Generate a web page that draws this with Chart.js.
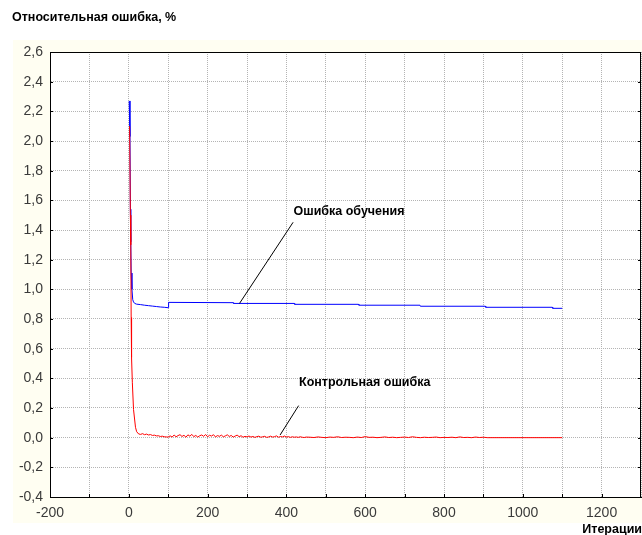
<!DOCTYPE html>
<html>
<head>
<meta charset="utf-8">
<script src="https://cdn.jsdelivr.net/npm/chart.js@4.4.1/dist/chart.umd.min.js"></script>
<style>
  html, body { margin: 0; padding: 0; background: #fff; }
  canvas { display: block; }
</style>
</head>
<body>
<canvas id="grafica" width="642" height="535"></canvas>
<script>
// Ошибка обучения (синяя): итерации и значения
const blueIter = [1, 3, 4, 5, 6, 8, 10, 12, 15, 20, 30, 40, 50, 60, 70, 80, 90, 100, 101, 265, 266, 420, 421, 583, 584, 739, 740, 905, 906, 1075, 1076, 1100];
const blueVals = [2.27, 2.03, 1.54, 1.32, 1.11, 1.0, 0.93, 0.915, 0.905, 0.9, 0.897, 0.893, 0.89, 0.887, 0.884, 0.881, 0.879, 0.876, 0.912, 0.91, 0.905, 0.905, 0.899, 0.899, 0.893, 0.893, 0.886, 0.886, 0.879, 0.879, 0.872, 0.872];

// Контрольная ошибка (красная): начало
const redHeadIter = [2, 4, 5, 6, 7, 9, 12, 17, 20];
const redHeadVals = [2.10, 1.5, 1.3, 0.81, 0.54, 0.37, 0.19, 0.07, 0.04];

// шум, шаг 5 итераций, с 25 по 450
const redMidStart = 25, redMidStep = 5;
const redMidVals = [
  0.025, 0.022, 0.027, 0.02, 0.024, 0.018, 0.021, 0.015, 0.017, 0.012, 0.013, 0.008, 0.01, 0.006, 0.005, 0.004,
  0.012, 0.004, 0.018, 0.006, 0.014, 0.02, 0.008, 0.016, 0.003, 0.019, 0.01, 0.022, 0.007, 0.015, 0.004, 0.013,
  0.018, 0.009, 0.021, 0.006, 0.016, 0.011, 0.02, 0.005, 0.014, 0.009, 0.017, 0.006, 0.012, 0.019, 0.008, 0.015,
  0.004, 0.011, 0.017, 0.007, 0.013, 0.003, 0.009, 0.005, 0.011, 0.004, 0.008, 0.002, 0.007, 0.01, 0.003, 0.006,
  0.009, 0.002, 0.005, 0.01, 0.004, 0.007, 0.012, 0.003, 0.008, 0.005, 0.011, 0.004, 0.007, 0.002, 0.006, 0.003,
  0.005, 0.002, 0.006, 0.003, 0.001, 0.004
];

// шум, шаг 10 итераций, с 460 по 910
const redLateStart = 460, redLateStep = 10;
const redLateVals = [
  0.003, 0.001, 0.005, 0.002, 0.0, 0.004, 0.002, 0.006, 0.001, 0.003,
  0.002, 0.0, 0.004, 0.001, 0.007, 0.002, 0.003, 0.0, 0.002, 0.005,
  0.001, 0.003, 0.0, 0.002, 0.004, 0.001, 0.006, 0.002, 0.0, 0.003,
  0.001, 0.002, 0.004, 0.0, 0.002, 0.001, 0.003, 0.0, 0.005, 0.001,
  0.002, 0.0, 0.004, 0.001, 0.003, 0.0
];
const redEndIter = [1100];
const redEndVals = [0.0];

// Etiquetas
const tituloY = 'Относительная ошибка, %';
const tituloX = 'Итерации';
const etiquetaAzul = 'Ошибка обучения';
const etiquetaRoja = 'Контрольная ошибка';

function puntos(xs, ys) {
    return xs.map((x, i) => ({ x: x, y: ys[i] }));
}

let datosAzul = puntos(blueIter, blueVals);
let datosRojo = puntos(redHeadIter, redHeadVals)
    .concat(redMidVals.map((v, i) => ({ x: redMidStart + i * redMidStep, y: v })))
    .concat(redLateVals.map((v, i) => ({ x: redLateStart + i * redLateStep, y: v })))
    .concat(puntos(redEndIter, redEndVals));

const familiaTicks = '"Liberation Sans", Arial, sans-serif';
const fuenteBold = 'bold 12.5px "Liberation Sans", Arial, sans-serif';

// fondo, marco, marcas internas, anotaciones
const dibujoExtra = {
    id: 'dibujoExtra',
    beforeDraw(chart) {
        const ctx = chart.ctx;
        ctx.save();
        ctx.fillStyle = '#ffffff';
        ctx.fillRect(0, 0, chart.width, chart.height);
        ctx.fillStyle = '#fffef2';
        ctx.fillRect(13, 40, chart.width - 13, 483);
        const a = chart.chartArea;
        ctx.fillStyle = '#ffffff';
        ctx.fillRect(a.left, a.top, a.right - a.left, a.bottom - a.top);
        ctx.restore();
    },
    afterDraw(chart) {
        const ctx = chart.ctx;
        const a = chart.chartArea;
        const sx = chart.scales.x;
        const sy = chart.scales.y;
        ctx.save();

        // marcas internas
        ctx.strokeStyle = '#000';
        ctx.lineWidth = 1;
        ctx.beginPath();
        for (let v = -100; v < 1300; v += 100) {
            const px = Math.round(sx.getPixelForValue(v)) + 0.5;
            ctx.moveTo(px, a.bottom);
            ctx.lineTo(px, a.bottom - 3);
        }
        for (let k = -1; k < 13; k++) {
            const py = Math.round(sy.getPixelForValue(k * 0.2)) + 0.5;
            ctx.moveTo(a.left, py);
            ctx.lineTo(a.left + 3, py);
            ctx.moveTo(a.right, py);
            ctx.lineTo(a.right - 3, py);
        }
        ctx.stroke();

        // marco
        ctx.strokeRect(Math.round(a.left) + 0.5, Math.round(a.top) + 0.5,
            Math.round(a.right - a.left) - 1, Math.round(a.bottom - a.top));

        // líneas de anotación
        ctx.beginPath();
        ctx.moveTo(sx.getPixelForValue(417), sy.getPixelForValue(1.452));
        ctx.lineTo(sx.getPixelForValue(281), sy.getPixelForValue(0.905));
        ctx.moveTo(sx.getPixelForValue(431), sy.getPixelForValue(0.216));
        ctx.lineTo(sx.getPixelForValue(384), sy.getPixelForValue(0.018));
        ctx.stroke();

        // textos
        ctx.fillStyle = '#000';
        ctx.font = fuenteBold;
        ctx.textBaseline = 'middle';
        ctx.textAlign = 'left';
        ctx.fillText(etiquetaAzul, sx.getPixelForValue(418), sy.getPixelForValue(1.527));
        ctx.fillText(etiquetaRoja, sx.getPixelForValue(432), sy.getPixelForValue(0.37));
        ctx.fillText(tituloY, 12, 18);
        ctx.textAlign = 'right';
        ctx.fillText(tituloX, chart.width, 530);
        ctx.restore();
    }
};

const ctx1 = document.getElementById('grafica').getContext('2d');

let grafica = new Chart(ctx1, {
    type: 'line',
    data: {
        datasets: [
            {
                label: etiquetaAzul,
                data: datosAzul,
                borderColor: '#0000ff',
                backgroundColor: '#0000ff',
                borderWidth: 1,
                pointRadius: 0,
                tension: 0,
                order: 1
            },
            {
                label: etiquetaRoja,
                data: datosRojo,
                borderColor: '#ff0000',
                backgroundColor: '#ff0000',
                borderWidth: 1,
                pointRadius: 0,
                tension: 0,
                order: 0
            }
        ]
    },
    options: {
        responsive: false,
        animation: false,
        layout: { padding: { top: 52, right: 1, left: 0, bottom: 0 } },
        plugins: {
            legend: { display: false },
            tooltip: { enabled: false }
        },
        scales: {
            x: {
                type: 'linear',
                min: -200,
                max: 1300,
                afterFit(scale) {
                    scale.height = 38;
                    scale.paddingLeft = 0;
                    scale.paddingRight = 0;
                },
                border: { display: true, color: '#000', width: 1, dash: [1, 1] },
                grid: {
                    color: '#b4b4b4',
                    drawTicks: false
                },
                ticks: {
                    stepSize: 100,
                    padding: 8,
                    color: '#3a3a3a',
                    font: { family: familiaTicks, size: 14 },
                    maxRotation: 0,
                    autoSkip: false,
                    callback: v => (v % 200 === 0 && v < 1300) ? String(v) : ''
                }
            },
            y: {
                min: -0.4,
                max: 2.6,
                afterFit(scale) {
                    scale.width = 50;
                    scale.paddingTop = 0;
                    scale.paddingBottom = 0;
                },
                border: { display: true, color: '#000', width: 1, dash: [1, 1] },
                grid: {
                    color: '#b4b4b4',
                    drawTicks: false
                },
                ticks: {
                    stepSize: 0.2,
                    padding: 7,
                    color: '#3a3a3a',
                    font: { family: familiaTicks, size: 14 },
                    callback: v => v.toFixed(1).replace('.', ',')
                }
            }
        }
    },
    plugins: [dibujoExtra]
});
</script>
</body>
</html>
